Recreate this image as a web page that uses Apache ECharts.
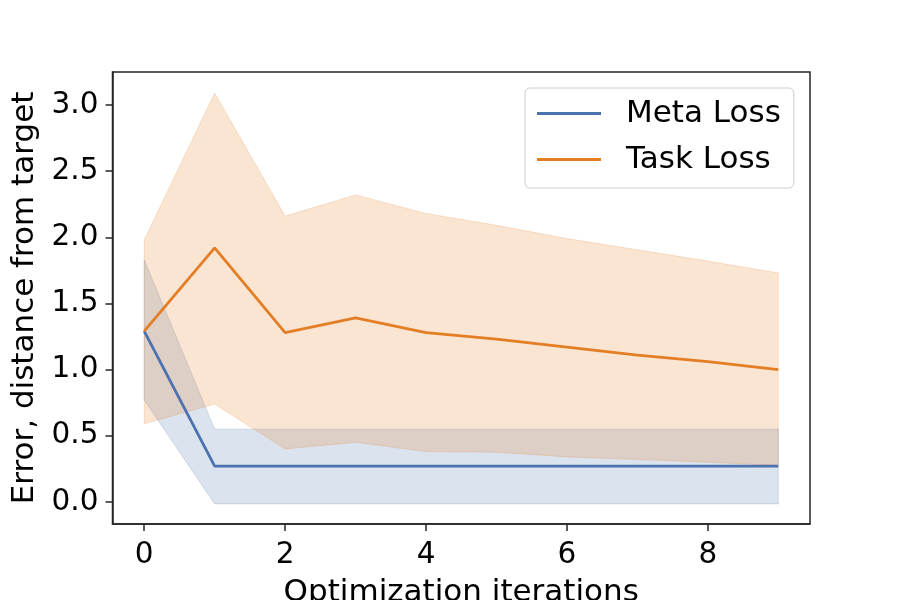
<!DOCTYPE html>
<html>
<head>
<meta charset="utf-8">
<script src="https://cdn.jsdelivr.net/npm/echarts@6/dist/echarts.min.js"></script>
<style>
  html, body { margin: 0; padding: 0; background: #fff; }
  #chart { width: 900px; height: 600px; }
</style>
</head>
<body>
<div id="chart"></div>
<script>
// values
const iterations = [0, 1, 2, 3, 4, 5, 6, 7, 8, 9];
const metaMean = [1.29, 0.27, 0.27, 0.27, 0.27, 0.27, 0.27, 0.27, 0.27, 0.27];
const metaLow = [0.77, -0.015, -0.015, -0.015, -0.015, -0.015, -0.015, -0.015, -0.015, -0.015];
const metaHigh = [1.83, 0.55, 0.55, 0.55, 0.55, 0.55, 0.55, 0.55, 0.55, 0.55];
const taskMean = [1.29, 1.92, 1.28, 1.39, 1.28, 1.23, 1.17, 1.11, 1.06, 1.0];
const taskLow = [0.59, 0.74, 0.40, 0.45, 0.38, 0.375, 0.34, 0.32, 0.30, 0.275];
const taskHigh = [1.98, 3.09, 2.16, 2.32, 2.18, 2.09, 1.99, 1.905, 1.82, 1.73];
const xTicks = [0, 2, 4, 6, 8];
const yTicks = [0, 0.5, 1, 1.5, 2, 2.5, 3];

const BLUE = '#4c72b0';
const ORANGE = '#e47e25';
const FONT = 'DejaVu Sans';
const AXIS = '#262626';

// band polygon drawn once, through the axes' own coord mapping
function band(low, high, fill) {
    return {
        type: 'custom',
        silent: true,
        z: 1,
        data: [0],
        renderItem: (params, api) => {
            const pts = [];
            iterations.forEach((x, i) => pts.push(api.coord([x, high[i]])));
            for (let i = iterations.length - 1; i >= 0; i--)
                pts.push(api.coord([iterations[i], low[i]]));
            return {
                type: 'polygon',
                shape: {points: pts},
                style: {fill: fill, stroke: fill, lineWidth: 1}
            };
        }
    };
}

function line(name, values, color) {
    return {
        name: name,
        type: 'line',
        z: 3,
        symbol: 'none',
        color: color,
        lineStyle: {color: color, width: 2.8},
        data: iterations.map((x, i) => [x, values[i]])
    };
}

const chart = echarts.init(document.getElementById('chart'));
chart.setOption({
    animation: false,
    backgroundColor: '#ffffff',
    textStyle: {fontFamily: FONT},
    grid: {
        left: 112.5, right: 90, top: 72, bottom: 76,
        outerBoundsMode: 'none',
        show: true, borderColor: AXIS, borderWidth: 1.5, backgroundColor: 'transparent'
    },
    legend: {
        left: 525, top: 88,
        orient: 'vertical',
        padding: [10, 13, 13, 12],
        itemGap: 15,
        itemWidth: 64,
        itemHeight: 3,
        icon: 'rect',
        borderColor: '#cccccc',
        borderWidth: 1,
        borderRadius: 5,
        backgroundColor: 'rgba(255,255,255,0.8)',
        textStyle: {fontFamily: FONT, fontSize: 31, color: '#000', padding: [0, 0, 0, 20]},
        data: ['Meta Loss', 'Task Loss']
    },
    xAxis: {
        type: 'value',
        min: -0.45, max: 9.45,
        name: 'Optimization iterations',
        nameLocation: 'middle',
        nameGap: 53,
        nameTextStyle: {fontFamily: FONT, fontSize: 31, color: '#000'},
        axisLine: {show: true, onZero: false, lineStyle: {color: AXIS, width: 1.5}},
        axisTick: {show: true, inside: false, length: 7, customValues: xTicks, lineStyle: {color: AXIS, width: 1.5}},
        axisLabel: {customValues: xTicks, fontFamily: FONT, fontSize: 29.5, color: '#000', margin: 16},
        splitLine: {show: false}
    },
    yAxis: {
        type: 'value',
        min: -0.167, max: 3.249,
        name: 'Error, distance from target',
        nameLocation: 'middle',
        nameGap: 72,
        nameTextStyle: {fontFamily: FONT, fontSize: 31, color: '#000'},
        axisLine: {show: true, onZero: false, lineStyle: {color: AXIS, width: 1.5}},
        axisTick: {show: true, inside: false, length: 7, customValues: yTicks, lineStyle: {color: AXIS, width: 1.5}},
        axisLabel: {
            customValues: yTicks, fontFamily: FONT, fontSize: 29.5, color: '#000', margin: 14,
            formatter: v => v.toFixed(1)
        },
        splitLine: {show: false}
    },
    series: [
        band(metaLow, metaHigh, 'rgba(76,114,176,0.2)'),
        band(taskLow, taskHigh, 'rgba(228,126,37,0.2)'),
        line('Meta Loss', metaMean, BLUE),
        line('Task Loss', taskMean, ORANGE)
    ]
});
</script>
</body>
</html>
